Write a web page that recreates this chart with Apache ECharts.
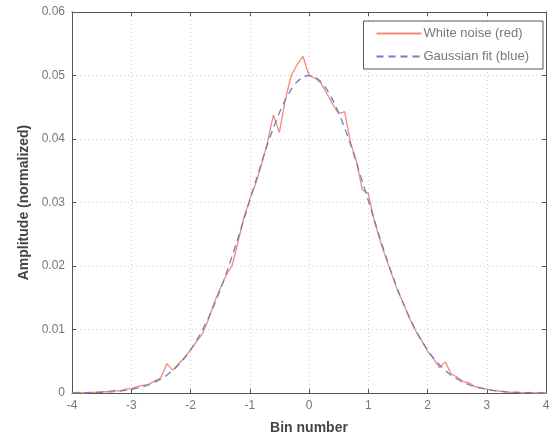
<!DOCTYPE html>
<html>
<head>
<meta charset="utf-8">
<script src="https://cdn.jsdelivr.net/npm/echarts@6/dist/echarts.min.js"></script>
<style>html,body{margin:0;padding:0;background:#fff;}#c{width:551px;height:434px;}</style>
</head>
<body>
<div id="c"></div>
<script>
const xValues = [-4.0,-3.9,-3.8,-3.7,-3.6,-3.5,-3.4,-3.3,-3.2,-3.1,-3.0,-2.9,-2.8,-2.7,-2.6,-2.5,-2.4,-2.3,-2.2,-2.1,-2.0,-1.9,-1.8,-1.7,-1.6,-1.5,-1.4,-1.3,-1.2,-1.1,-1.0,-0.9,-0.8,-0.7,-0.6,-0.5,-0.4,-0.3,-0.2,-0.1,0.0,0.1,0.2,0.3,0.4,0.5,0.6,0.7,0.8,0.9,1.0,1.1,1.2,1.3,1.4,1.5,1.6,1.7,1.8,1.9,2.0,2.1,2.2,2.3,2.4,2.5,2.6,2.7,2.8,2.9,3.0,3.1,3.2,3.3,3.4,3.5,3.6,3.7,3.8,3.9,4.0];
const noiseValues = [0.0000,0.0001,0.0000,0.0001,0.0001,0.0002,0.0002,0.0004,0.0003,0.0006,0.0007,0.0010,0.0012,0.0014,0.0019,0.0024,0.0046,0.0036,0.0046,0.0056,0.0068,0.0081,0.0093,0.0115,0.0142,0.0164,0.0185,0.0200,0.0237,0.0276,0.0305,0.0330,0.0360,0.0395,0.0438,0.0410,0.0462,0.0500,0.0517,0.0530,0.0500,0.0496,0.0488,0.0472,0.0455,0.0440,0.0443,0.0395,0.0365,0.0320,0.0314,0.0272,0.0240,0.0212,0.0186,0.0160,0.0140,0.0117,0.0098,0.0083,0.0066,0.0054,0.0040,0.0049,0.0030,0.0025,0.0018,0.0016,0.0010,0.0008,0.0006,0.0004,0.0003,0.0002,0.0001,0.0001,0.0000,0.0001,0.0000,0.0000,0.0000];
const fitValues = [0.00002,0.00002,0.00004,0.00005,0.00008,0.00011,0.00016,0.00022,0.00030,0.00041,0.00056,0.00075,0.00099,0.00130,0.00170,0.00220,0.00281,0.00355,0.00445,0.00551,0.00677,0.00822,0.00989,0.01178,0.01390,0.01623,0.01876,0.02148,0.02434,0.02730,0.03033,0.03333,0.03631,0.03916,0.04177,0.04412,0.04616,0.04780,0.04901,0.04975,0.05000,0.04975,0.04901,0.04780,0.04616,0.04412,0.04177,0.03916,0.03631,0.03333,0.03033,0.02730,0.02434,0.02148,0.01876,0.01623,0.01390,0.01178,0.00989,0.00822,0.00677,0.00551,0.00445,0.00355,0.00281,0.00220,0.00170,0.00130,0.00099,0.00075,0.00056,0.00041,0.00030,0.00022,0.00016,0.00011,0.00008,0.00005,0.00004,0.00002,0.00002];
const seriesNames = ['White noise (red)', 'Gaussian fit (blue)'];
const xAxisTitle = 'Bin number';
const yAxisTitle = 'Amplitude (normalized)';

const chart = echarts.init(document.getElementById('c'), null, {renderer: 'canvas'});
const FONT = 'Liberation Sans, Arial, sans-serif';
const axisColor = '#555';
const labelStyle = {color: '#777', fontFamily: FONT, fontSize: 12};
const tickStyle = {show: true, inside: true, length: 4, lineStyle: {color: axisColor}};
const splitStyle = {show: true, lineStyle: {color: '#cfcfcf', type: [1, 3], width: 1}};
const redColor = '#f28a78';
const blueColor = '#717cc4';
chart.setOption({
  animation: false,
  backgroundColor: '#fff',
  grid: {left: 72, right: 5, top: 12, bottom: 41, containLabel: false, outerBoundsMode: 'none'},
  legend: {
    data: seriesNames,
    orient: 'vertical',
    right: 8, top: 21,
    itemWidth: 45, itemHeight: 12, itemGap: 10,
    padding: [6, 14, 6, 12],
    borderColor: '#555', borderWidth: 1,
    backgroundColor: '#fff',
    itemStyle: {opacity: 0},
    textStyle: {color: '#777', fontFamily: FONT, fontSize: 13, padding: [0, 0, 0, -3]}
  },
  xAxis: [{
    type: 'value', min: -4, max: 4, interval: 1,
    name: xAxisTitle, nameLocation: 'middle', nameGap: 28,
    nameTextStyle: {color: '#444', fontWeight: 'bold', fontSize: 14, fontFamily: FONT},
    axisLine: {show: true, onZero: false, lineStyle: {color: axisColor}},
    axisTick: tickStyle,
    axisLabel: Object.assign({margin: 7}, labelStyle),
    splitLine: splitStyle
  }, {
    type: 'value', min: -4, max: 4, interval: 1, position: 'top',
    axisLine: {show: true, onZero: false, lineStyle: {color: axisColor}},
    axisTick: tickStyle, axisLabel: {show: false}, splitLine: {show: false}
  }],
  yAxis: [{
    type: 'value', min: 0, max: 0.06, interval: 0.01,
    name: yAxisTitle, nameLocation: 'middle', nameGap: 40,
    nameTextStyle: {color: '#444', fontWeight: 'bold', fontSize: 14, fontFamily: FONT},
    axisLine: {show: true, onZero: false, lineStyle: {color: axisColor}},
    axisTick: tickStyle,
    axisLabel: Object.assign({margin: 7, formatter: v => v === 0 ? '0' : v.toFixed(2)}, labelStyle),
    splitLine: splitStyle
  }, {
    type: 'value', min: 0, max: 0.06, interval: 0.01, position: 'right',
    axisLine: {show: true, onZero: false, lineStyle: {color: axisColor}},
    axisTick: tickStyle, axisLabel: {show: false}, splitLine: {show: false}
  }],
  series: [{
    name: seriesNames[0], type: 'line', showSymbol: false, symbol: 'none',
    data: xValues.map((x, i) => [x, noiseValues[i]]),
    lineStyle: {color: redColor, width: 1.3},
    itemStyle: {color: redColor}
  }, {
    name: seriesNames[1], type: 'line', showSymbol: false, symbol: 'none', smooth: 0.3,
    data: xValues.map((x, i) => [x, fitValues[i]]),
    lineStyle: {color: blueColor, width: 1.3, type: [7, 5]},
    itemStyle: {color: blueColor}
  }]
});
</script>
</body>
</html>
